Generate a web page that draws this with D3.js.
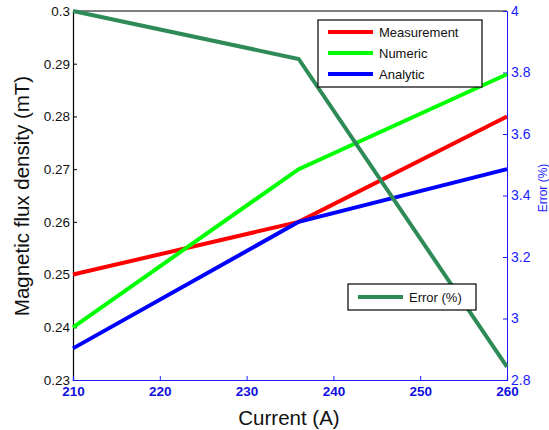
<!DOCTYPE html>
<html>
<head>
<meta charset="utf-8">
<script src="https://cdn.jsdelivr.net/npm/d3@7"></script>
<style>
body { margin: 0; background: #fff; }
text { font-family: "Liberation Sans", Arial, sans-serif; }
</style>
</head>
<body>
<div id="chart"></div>
<script>
// data
var current = [210, 236, 260];
var measurement = [0.25, 0.26, 0.28];
var numeric = [0.24, 0.27, 0.288];
var analytic = [0.236, 0.26, 0.27];
var errorPct = [4.0, 3.844, 2.843];

var xTicks = [210, 220, 230, 240, 250, 260];
var yTicks = [0.23, 0.24, 0.25, 0.26, 0.27, 0.28, 0.29, 0.3];
var y2Ticks = [2.8, 3, 3.2, 3.4, 3.6, 3.8, 4];

var seriesLeft = [
    {name: "Measurement", values: measurement, color: "#ff0000"},
    {name: "Numeric", values: numeric, color: "#00ff00"},
    {name: "Analytic", values: analytic, color: "#0000ff"}
];
var errColor = "#2e8b57";
var axisBlue = "#1a1aff";

var W = 549, H = 430;
var margin = {top: 11, right: 42, bottom: 50, left: 73},
    width = W - margin.left - margin.right,
    height = H - margin.top - margin.bottom;

var x = d3.scaleLinear().domain([210, 260]).range([0, width]);
var y = d3.scaleLinear().domain([0.23, 0.3]).range([height, 0]);
var y2 = d3.scaleLinear().domain([2.8, 4]).range([height, 0]);

var svg = d3.select("#chart").append("svg")
    .attr("width", W)
    .attr("height", H);

var g = svg.append("g")
    .attr("transform", "translate(" + margin.left + "," + margin.top + ")");

// top border
g.append("line")
    .attr("x1", 0).attr("x2", width).attr("y1", 0).attr("y2", 0)
    .attr("stroke", "#000").attr("stroke-width", 1);

// left y axis (ticks point inward)
var yAxis = d3.axisRight(y).tickValues(yTicks).tickSize(4).tickFormat(d3.format("~g"));
var gy = g.append("g").call(yAxis);
gy.select(".domain").attr("stroke", "#000").attr("stroke-width", 1.2);
gy.selectAll(".tick line").attr("stroke", "#000");
gy.selectAll(".tick text")
    .attr("x", -3).attr("text-anchor", "end")
    .attr("fill", "#111").style("font-size", "13.5px");

// right y axis
var y2Axis = d3.axisLeft(y2).tickValues(y2Ticks).tickSize(4).tickFormat(d3.format("~g"));
var gy2 = g.append("g").attr("transform", "translate(" + width + ",0)").call(y2Axis);
gy2.select(".domain").attr("stroke", axisBlue).attr("stroke-width", 1);
gy2.selectAll(".tick line").attr("stroke", axisBlue);
gy2.selectAll(".tick text")
    .attr("x", 4).attr("text-anchor", "start")
    .attr("fill", axisBlue).style("font-size", "14px");

// x axis
var xAxis = d3.axisTop(x).tickValues(xTicks).tickSize(4);
var gx = g.append("g").attr("transform", "translate(0," + height + ")").call(xAxis);
gx.select(".domain").attr("stroke", axisBlue).attr("stroke-width", 1.2);
gx.selectAll(".tick line").attr("stroke", axisBlue);
gx.selectAll(".tick text")
    .attr("y", 16).attr("dy", "0")
    .attr("fill", "#1010e0").style("font-size", "13.5px").style("font-weight", "bold");

// lines
var lineLeft = d3.line()
    .x(function(d, i) { return x(current[i]); })
    .y(function(d) { return y(d); });
var lineRight = d3.line()
    .x(function(d, i) { return x(current[i]); })
    .y(function(d) { return y2(d); });

g.selectAll(".series")
    .data(seriesLeft)
    .enter().append("path")
    .attr("class", "series")
    .attr("fill", "none")
    .attr("stroke", function(d) { return d.color; })
    .attr("stroke-width", 4)
    .attr("d", function(d) { return lineLeft(d.values); });

g.append("path")
    .attr("fill", "none")
    .attr("stroke", errColor)
    .attr("stroke-width", 4)
    .attr("d", lineRight(errorPct));

// axis labels
svg.append("text")
    .attr("x", 289).attr("y", 425)
    .attr("text-anchor", "middle")
    .style("font-size", "20.5px").attr("fill", "#111")
    .text("Current (A)");

svg.append("text")
    .attr("transform", "translate(29,196) rotate(-90)")
    .attr("text-anchor", "middle")
    .style("font-size", "20.5px").attr("fill", "#111")
    .text("Magnetic flux density (mT)");

svg.append("text")
    .attr("transform", "translate(547,188) rotate(-90)")
    .attr("text-anchor", "middle")
    .style("font-size", "12px").attr("fill", axisBlue)
    .text("Error (%)");

// legend for left series
var leg = svg.append("g").attr("transform", "translate(318,20)");
leg.append("rect")
    .attr("width", 164).attr("height", 67)
    .attr("fill", "#fff").attr("stroke", "#000").attr("stroke-width", 1.2);
var items = leg.selectAll(".item")
    .data(seriesLeft)
    .enter().append("g")
    .attr("class", "item")
    .attr("transform", function(d, i) { return "translate(0," + (12 + i * 21) + ")"; });
items.append("line")
    .attr("x1", 10).attr("x2", 55)
    .attr("stroke", function(d) { return d.color; })
    .attr("stroke-width", 4);
items.append("text")
    .attr("x", 61).attr("dy", "0.35em")
    .style("font-size", "13px").attr("fill", "#111")
    .text(function(d) { return d.name; });

// legend for error series
var leg2 = svg.append("g").attr("transform", "translate(348,284)");
leg2.append("rect")
    .attr("width", 128).attr("height", 26)
    .attr("fill", "#fff").attr("stroke", "#000").attr("stroke-width", 1.2);
leg2.append("line")
    .attr("x1", 10).attr("x2", 55).attr("y1", 13).attr("y2", 13)
    .attr("stroke", errColor).attr("stroke-width", 4);
leg2.append("text")
    .attr("x", 61).attr("y", 13).attr("dy", "0.35em")
    .style("font-size", "13px").attr("fill", "#111")
    .text("Error (%)");
</script>
</body>
</html>
